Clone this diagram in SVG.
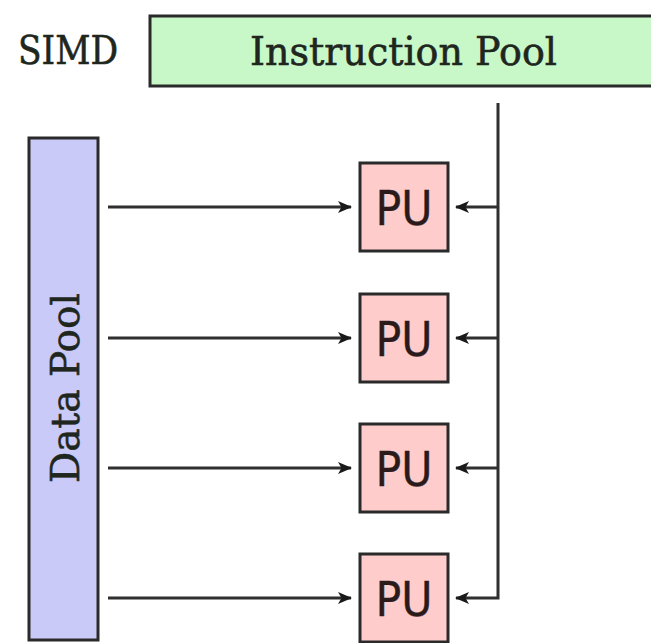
<svg xmlns="http://www.w3.org/2000/svg" width="651" height="643" viewBox="0 0 651 643">
<style>
.box{stroke:#2a2a2a;stroke-width:3}
.serif{font-family:"DejaVu Serif","Liberation Serif",serif;fill:#1e261e;stroke:#1e261e;stroke-width:0.6}
.pu{font-family:"DejaVu Sans","Liberation Sans",sans-serif;fill:#2a1a1a;font-size:48px;text-anchor:middle;stroke:#2a1a1a;stroke-width:0.4}
.wire{fill:none;stroke:#2f2f2f;stroke-width:3}
</style>
<defs>
<marker id="arr" viewBox="0 0 14 14" refX="13" refY="7" markerWidth="14" markerHeight="14" markerUnits="userSpaceOnUse" orient="auto">
<path d="M0,1 L14,7 L0,13 L3.5,7 Z" fill="#1a1a1a"/>
</marker>
</defs>
<rect width="651" height="643" fill="#ffffff"/>
<text class="serif" x="18" y="64" font-size="39" textLength="100" lengthAdjust="spacingAndGlyphs">SIMD</text>
<g id="instruction-pool">
<rect class="box" x="150" y="16" width="520" height="70" fill="#c8f8c8"/>
<text class="serif" x="250" y="65" font-size="39" textLength="307" lengthAdjust="spacingAndGlyphs">Instruction Pool</text>
</g>
<g id="data-pool">
<rect class="box" x="29" y="138" width="69" height="502" fill="#cacaf8"/>
<text class="serif" transform="translate(79,388) rotate(-90)" x="0" y="0" font-size="39" text-anchor="middle" textLength="190" lengthAdjust="spacingAndGlyphs">Data Pool</text>
</g>
<g id="pu1">
<rect class="box" x="360" y="163" width="88" height="88" fill="#ffcccc"/>
<text class="pu" x="404" y="225" textLength="57" lengthAdjust="spacingAndGlyphs">PU</text>
</g>
<g id="pu2">
<rect class="box" x="360" y="294" width="88" height="88" fill="#ffcccc"/>
<text class="pu" x="404" y="356" textLength="57" lengthAdjust="spacingAndGlyphs">PU</text>
</g>
<g id="pu3">
<rect class="box" x="360" y="424" width="88" height="88" fill="#ffcccc"/>
<text class="pu" x="404" y="486" textLength="57" lengthAdjust="spacingAndGlyphs">PU</text>
</g>
<g id="pu4">
<rect class="box" x="360" y="554" width="88" height="88" fill="#ffcccc"/>
<text class="pu" x="404" y="616" textLength="57" lengthAdjust="spacingAndGlyphs">PU</text>
</g>
<g id="connectors">
<path class="wire" d="M108,207 H351" marker-end="url(#arr)"/>
<path class="wire" d="M108,338 H351" marker-end="url(#arr)"/>
<path class="wire" d="M108,468 H351" marker-end="url(#arr)"/>
<path class="wire" d="M108,598 H351" marker-end="url(#arr)"/>
<path class="wire" d="M498,103 V598 H456" marker-end="url(#arr)"/>
<path class="wire" d="M498,207 H456" marker-end="url(#arr)"/>
<path class="wire" d="M498,338 H456" marker-end="url(#arr)"/>
<path class="wire" d="M498,468 H456" marker-end="url(#arr)"/>
</g>
</svg>
